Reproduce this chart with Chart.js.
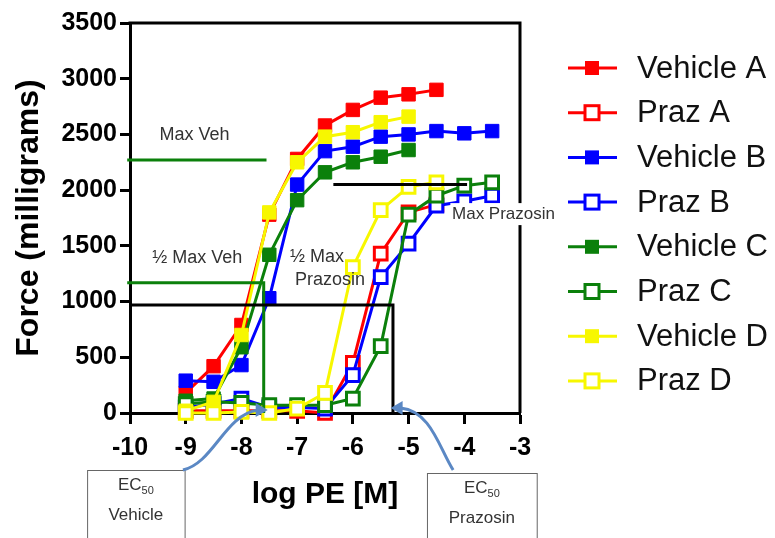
<!DOCTYPE html>
<html>
<head>
<meta charset="utf-8">
<script src="https://cdn.jsdelivr.net/npm/chart.js@4.4.1/dist/chart.umd.min.js"></script>
<style>
  html, body { margin: 0; padding: 0; background: #fff; }
  #wrap { width: 775px; height: 538px; }
</style>
</head>
<body>
<div id="wrap"><canvas id="chart" width="775" height="538"></canvas></div>
<script>
// log PE [M] doses
const doses = [-9, -8.5, -8, -7.5, -7, -6.5, -6, -5.5, -5, -4.5, -4, -3.5];

// Force (mg), one value per dose (shorter arrays stop early)
const vehicleA = [180, 420, 790, 1780, 2280, 2580, 2720, 2830, 2860, 2900];
const prazA    = [20, 20, 20, 20, 20, 0, 450, 1430, 1800, 1870];
const vehicleB = [290, 280, 430, 1030, 2050, 2350, 2390, 2480, 2500, 2530, 2510, 2530];
const prazB    = [50, 80, 130, 50, 50, 40, 340, 1220, 1520, 1860, 1900, 1950];
const vehicleC = [110, 130, 590, 1420, 1910, 2160, 2250, 2300, 2360];
const prazC    = [80, 100, 90, 70, 70, 70, 130, 600, 1780, 1950, 2040, 2070];
const vehicleD = [20, 100, 700, 1800, 2250, 2480, 2520, 2610, 2660];
const prazD    = [0, 0, 10, 0, 40, 180, 1310, 1820, 2030, 2070];

const xTicks = [-10, -9, -8, -7, -6, -5, -4, -3];
const yTicks = [0, 500, 1000, 1500, 2000, 2500, 3000, 3500];

// annotation levels
const maxVeh = 2270;
const halfMaxVeh = 1170;
const halfMaxPraz = 970;
const maxPraz = 2050;
const ec50Veh = -7.6;
const ec50Praz = -5.28;

const RED = '#ff0000', BLUE = '#0000ff', GREEN = '#0b800b', YELLOW = '#f7f700';

function pts(values) {
    return values.map((v, i) => ({ x: doses[i], y: v }));
}

function series(label, values, color, open, order) {
    return {
        label,
        data: pts(values),
        borderColor: color,
        backgroundColor: color,
        borderWidth: 3,
        pointStyle: 'rect',
        pointRadius: open ? 9 : 9.5,
        pointBorderWidth: open ? 3 : 1,
        pointBackgroundColor: open ? '#fff' : color,
        pointBorderColor: color,
        tension: 0,
        clip: false,
        order,
        open
    };
}

const datasets = [
    series('Vehicle A', vehicleA, RED, false, 8),
    series('Praz A', prazA, RED, true, 7),
    series('Vehicle B', vehicleB, BLUE, false, 6),
    series('Praz B', prazB, BLUE, true, 5),
    series('Vehicle C', vehicleC, GREEN, false, 4),
    series('Praz C', prazC, GREEN, true, 3),
    series('Vehicle D', vehicleD, YELLOW, false, 2),
    series('Praz D', prazD, YELLOW, true, 1)
];

const FONT = "Arial, 'Liberation Sans', sans-serif";

// lines, labels, boxes and arrows drawn over the plot
const annotations = {
    id: 'annotations',
    afterDatasetsDraw(chart) {
        const { ctx, chartArea: a, scales: { x, y } } = chart;
        const px = v => x.getPixelForValue(v);
        const py = v => y.getPixelForValue(v);
        ctx.save();
        ctx.lineCap = 'butt';

        // box top / right
        ctx.strokeStyle = '#000';
        ctx.lineWidth = 3;
        ctx.beginPath();
        ctx.moveTo(a.left - 1.5, a.top);
        ctx.lineTo(a.right, a.top);
        ctx.lineTo(a.right, a.bottom);
        ctx.stroke();

        // Max Veh
        ctx.strokeStyle = GREEN;
        ctx.lineWidth = 3;
        ctx.beginPath();
        ctx.moveTo(px(-10.05), py(maxVeh));
        ctx.lineTo(px(-7.55), py(maxVeh));
        ctx.stroke();

        // 1/2 Max Veh
        ctx.beginPath();
        ctx.moveTo(px(-10.05), py(halfMaxVeh));
        ctx.lineTo(px(ec50Veh), py(halfMaxVeh));
        ctx.lineTo(px(ec50Veh), py(0));
        ctx.stroke();

        // 1/2 Max Prazosin
        ctx.strokeStyle = '#000';
        ctx.beginPath();
        ctx.moveTo(px(-10), py(halfMaxPraz));
        ctx.lineTo(px(ec50Praz), py(halfMaxPraz));
        ctx.lineTo(px(ec50Praz), py(0));
        ctx.stroke();

        // Max Prazosin
        ctx.beginPath();
        ctx.moveTo(px(-6.35), py(maxPraz));
        ctx.lineTo(px(-3.95), py(maxPraz));
        ctx.stroke();

        // labels
        ctx.fillStyle = '#333';
        ctx.textBaseline = 'middle';
        ctx.textAlign = 'left';
        ctx.font = '18px ' + FONT;
        ctx.fillText('Max Veh', px(-9.47), py(2495));
        ctx.fillText('\u00bd Max Veh', px(-9.6), py(1390));
        ctx.fillText('\u00bd Max', px(-7.13), py(1400));
        ctx.fillText('Prazosin', px(-7.04), py(1195));

        ctx.font = '17px ' + FONT;
        const mp = 'Max Prazosin';
        const w = ctx.measureText(mp).width;
        ctx.fillStyle = '#fff';
        ctx.fillRect(px(-4.25), py(1785) - 11, w + 8, 22);
        ctx.fillStyle = '#333';
        ctx.fillText(mp, px(-4.22), py(1785));

        // EC50 boxes
        const boxes = [
            { x0: -10.77, x1: -9.02, top: a.bottom + 57, name: 'Vehicle' },
            { x0: -4.67, x1: -2.7, top: a.bottom + 60, name: 'Prazosin' }
        ];
        boxes.forEach(b => {
            const l = px(b.x0), r = px(b.x1);
            ctx.strokeStyle = '#666';
            ctx.lineWidth = 1;
            ctx.strokeRect(l + 0.5, b.top + 0.5, r - l, 80);
            const cx = (l + r) / 2;
            ctx.fillStyle = '#333';
            ctx.font = '17px ' + FONT;
            const ec = ctx.measureText('EC').width;
            ctx.font = '11px ' + FONT;
            const sub = ctx.measureText('50').width;
            ctx.font = '17px ' + FONT;
            ctx.textAlign = 'left';
            ctx.fillText('EC', cx - (ec + sub) / 2, b.top + 15);
            ctx.font = '11px ' + FONT;
            ctx.fillText('50', cx - (ec + sub) / 2 + ec, b.top + 21);
            ctx.font = '17px ' + FONT;
            ctx.textAlign = 'center';
            ctx.fillText(b.name, cx, b.top + 45);
        });

        // curved arrows
        ctx.strokeStyle = '#5b88c4';
        ctx.fillStyle = '#5b88c4';
        ctx.lineWidth = 3;
        const arrow = (sx, sy, c1x, c1y, c2x, c2y, ex, ey, dir) => {
            ctx.beginPath();
            ctx.moveTo(sx, sy);
            ctx.bezierCurveTo(c1x, c1y, c2x, c2y, ex - dir * 6, ey);
            ctx.stroke();
            ctx.beginPath();
            ctx.moveTo(ex + dir * 4, ey);
            ctx.lineTo(ex - dir * 8, ey - 7);
            ctx.lineTo(ex - dir * 8, ey + 7);
            ctx.closePath();
            ctx.fill();
        };
        const b0 = a.bottom;
        arrow(px(-9.05), b0 + 57, px(-8.5), b0 + 50, px(-8.3), b0 + 2, px(-7.6), b0 - 3, 1);
        arrow(px(-4.2), b0 + 57, px(-4.45), b0 + 35, px(-4.6), b0 - 2, px(-5.25), b0 - 5, -1);

        ctx.restore();
    }
};

// legend at the right, line + square marker per entry
const sideLegend = {
    id: 'sideLegend',
    afterDraw(chart) {
        const { ctx } = chart;
        ctx.save();
        chart.data.datasets.forEach((ds, i) => {
            const yy = 68 + i * 44.7;
            ctx.strokeStyle = ds.borderColor;
            ctx.lineWidth = 3;
            ctx.beginPath();
            ctx.moveTo(568, yy);
            ctx.lineTo(617, yy);
            ctx.stroke();
            if (ds.open) {
                ctx.fillStyle = '#fff';
                ctx.fillRect(585, yy - 7, 14, 14);
                ctx.strokeRect(585, yy - 7, 14, 14);
            } else {
                ctx.fillStyle = ds.borderColor;
                ctx.fillRect(585, yy - 7, 14, 14);
            }
            ctx.fillStyle = '#111';
            ctx.font = '31px ' + FONT;
            ctx.textBaseline = 'middle';
            ctx.textAlign = 'left';
            ctx.fillText(ds.label, 637, yy + 1);
        });
        ctx.restore();
    }
};

new Chart(document.getElementById('chart').getContext('2d'), {
    type: 'line',
    data: { datasets },
    options: {
        responsive: false,
        devicePixelRatio: 1,
        animation: false,
        layout: { padding: { top: 23, right: 255, left: 0, bottom: 0 } },
        plugins: { legend: { display: false }, tooltip: { enabled: false } },
        scales: {
            x: {
                type: 'linear',
                min: -10,
                max: -3,
                afterBuildTicks: s => { s.ticks = xTicks.map(v => ({ value: v })); },
                afterFit: s => { s.height = 125; },
                ticks: { color: '#000', padding: 9, font: { family: FONT, size: 25, weight: 'bold' }, callback: v => String(v) },
                grid: { drawOnChartArea: false, tickLength: 11, tickWidth: 3, tickColor: '#000' },
                border: { color: '#000', width: 3 },
                title: {
                    display: true,
                    text: 'log PE [M]',
                    color: '#000',
                    font: { family: FONT, size: 30, weight: 'bold' },
                    padding: { top: 0, bottom: 25 }
                }
            },
            y: {
                min: 0,
                max: 3500,
                afterBuildTicks: s => { s.ticks = yTicks.map(v => ({ value: v })); },
                afterFit: s => { s.width = 130; },
                ticks: { color: '#000', padding: 3, font: { family: FONT, size: 25, weight: 'bold' }, callback: v => String(v) },
                grid: { drawOnChartArea: false, tickLength: 10, tickWidth: 3, tickColor: '#000' },
                border: { color: '#000', width: 3 },
                title: {
                    display: true,
                    text: 'Force (milligrams)',
                    color: '#000',
                    font: { family: FONT, size: 32, weight: 'bold' },
                    padding: { top: 10, bottom: 0 }
                }
            }
        }
    },
    plugins: [annotations, sideLegend]
});
</script>
</body>
</html>
